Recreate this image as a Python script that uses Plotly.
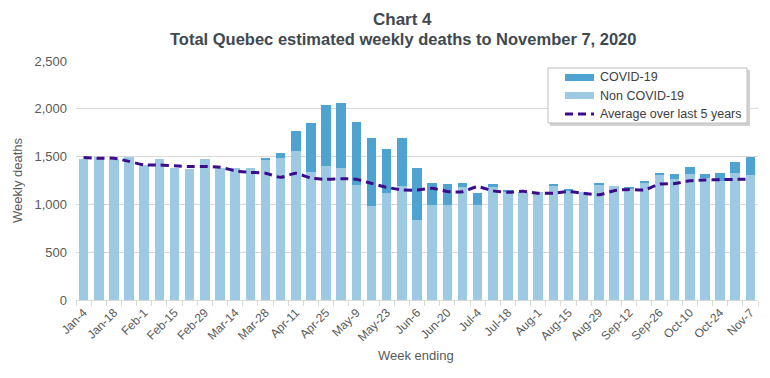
import plotly.graph_objects as go

weeks = ["Jan-4", "Jan-11", "Jan-18", "Jan-25", "Feb-1", "Feb-8", "Feb-15", "Feb-22", "Feb-29",
         "Mar-7", "Mar-14", "Mar-21", "Mar-28", "Apr-4", "Apr-11", "Apr-18", "Apr-25", "May-2",
         "May-9", "May-16", "May-23", "May-30", "Jun-6", "Jun-13", "Jun-20", "Jun-27", "Jul-4",
         "Jul-11", "Jul-18", "Jul-25", "Aug-1", "Aug-8", "Aug-15", "Aug-22", "Aug-29", "Sep-5",
         "Sep-12", "Sep-19", "Sep-26", "Oct-3", "Oct-10", "Oct-17", "Oct-24", "Oct-31", "Nov-7"]

non_covid = [1475, 1495, 1472, 1500, 1413, 1476, 1385, 1368, 1476, 1385, 1385, 1378, 1465, 1490,
             1560, 1342, 1404, 1376, 1208, 987, 1116, 1192, 837, 994, 994, 1185, 994, 1192, 1125,
             1133, 1133, 1200, 1144, 1134, 1210, 1192, 1168, 1220, 1308, 1266, 1315, 1280, 1245,
             1325, 1308]

covid = [0, 0, 0, 0, 0, 0, 0, 0, 0, 0, 0, 0, 25, 45, 213, 506, 636, 681, 657, 703, 464, 498, 540,
         226, 216, 35, 122, 18, 25, 0, 0, 3, 14, 0, 15, 0, 14, 23, 14, 47, 80, 42, 87, 122, 191]

avg5 = [1490, 1483, 1483, 1450, 1413, 1413, 1403, 1396, 1396, 1389, 1352, 1335, 1326, 1283, 1325,
        1275, 1262, 1269, 1262, 1220, 1179, 1152, 1150, 1168, 1135, 1133, 1185, 1142, 1126, 1138,
        1116, 1118, 1134, 1116, 1100, 1143, 1157, 1152, 1213, 1218, 1248, 1255, 1258, 1262, 1262]

series_names = ["COVID-19", "Non COVID-19", "Average over last 5 years"]
tick_text = [w if i % 2 == 0 else "" for i, w in enumerate(weeks)]

GRAY = "#595959"
TITLE_C = "#404850"
FONT = "Liberation Sans, Arial, sans-serif"
C_COVID = "#4FA3D1"
C_NON = "#9DC9E3"
C_AVG = "#3D0C8C"
DASH = "8px,5px"

# plot area in screenshot pixels (page has an 8px body margin)
OFF = 8
L, R, T, B = 76, 758, 61, 300
W, H = 770, 378


def px(xp):
    return (xp - L) / (R - L)


def py(yp):
    return (B - yp) / (B - T)


fig = go.Figure()
fig.add_trace(go.Bar(x=weeks, y=non_covid, name=series_names[1], marker_color=C_NON,
                     marker_line_width=0))
fig.add_trace(go.Bar(x=weeks, y=covid, name=series_names[0], marker_color=C_COVID,
                     marker_line_width=0))
fig.add_trace(go.Scatter(x=weeks, y=avg5, name=series_names[2], mode="lines",
                         line=dict(color=C_AVG, width=3, dash=DASH, shape="spline",
                                   smoothing=0.6)))

shapes = []
annotations = []

# titles
annotations.append(dict(text="<b>Chart 4</b>", xref="paper", yref="paper",
                        x=px(402), y=py(19.5), xanchor="center", yanchor="middle", showarrow=False,
                        font=dict(family=FONT, size=17, color=TITLE_C)))
annotations.append(dict(text="<b>Total Quebec estimated weekly deaths to November 7, 2020</b>",
                        xref="paper", yref="paper",
                        x=px(402.5), y=py(39), xanchor="center", yanchor="middle", showarrow=False,
                        font=dict(family=FONT, size=16.5, color=TITLE_C)))

# custom legend
shapes.append(dict(type="rect", xref="paper", yref="paper",
                   x0=px(550), x1=px(750), y0=py(70), y1=py(126),
                   fillcolor="#D2D2D2", line=dict(width=0), layer="above"))
shapes.append(dict(type="rect", xref="paper", yref="paper",
                   x0=px(548), x1=px(747), y0=py(68), y1=py(123),
                   fillcolor="white", line=dict(color="#BFBFBF", width=1), layer="above"))
shapes.append(dict(type="rect", xref="paper", yref="paper",
                   x0=px(565), x1=px(594), y0=py(74), y1=py(81),
                   fillcolor=C_COVID, line=dict(width=0), layer="above"))
shapes.append(dict(type="rect", xref="paper", yref="paper",
                   x0=px(565), x1=px(594), y0=py(92), y1=py(99),
                   fillcolor=C_NON, line=dict(width=0), layer="above"))
shapes.append(dict(type="line", xref="paper", yref="paper",
                   x0=px(565), x1=px(594), y0=py(114), y1=py(114),
                   line=dict(color=C_AVG, width=3, dash=DASH), layer="above"))
for name, yy in zip(series_names, [77, 95.5, 114]):
    annotations.append(dict(text=name, xref="paper", yref="paper", x=px(598), y=py(yy),
                            xanchor="left", yanchor="middle", showarrow=False,
                            font=dict(family=FONT, size=12.5, color="#404040")))

# axis titles
annotations.append(dict(text="Weekly deaths", xref="paper", yref="paper", x=px(17), y=py(180),
                        xanchor="center", yanchor="middle", textangle=-90, showarrow=False,
                        font=dict(family=FONT, size=13, color=GRAY)))
annotations.append(dict(text="Week ending", xref="paper", yref="paper", x=px(416), y=py(355),
                        xanchor="center", yanchor="middle", showarrow=False,
                        font=dict(family=FONT, size=13, color=GRAY)))

fig.update_layout(
    width=W, height=H,
    barmode="stack", bargap=0.37,
    plot_bgcolor="white", paper_bgcolor="white",
    margin=dict(l=L - OFF, r=W - (R - OFF), t=T - OFF, b=H - (B - OFF), autoexpand=False),
    font=dict(family=FONT, color=GRAY, size=12),
    showlegend=False,
    shapes=shapes,
    annotations=annotations,
)

fig.update_xaxes(
    type="category", tickmode="array", tickvals=weeks, ticktext=tick_text,
    tickangle=-45, tickfont=dict(size=12, color=GRAY),
    ticks="outside", tickson="boundaries", ticklen=5, tickcolor="#D9D9D9",
    showline=True, linecolor="#D9D9D9", linewidth=1,
    showgrid=False, automargin=False,
)
fig.update_yaxes(
    range=[0, 2500], dtick=500, tickformat=",",
    tickfont=dict(size=13, color=GRAY),
    showgrid=True, gridcolor="#D9D9D9", gridwidth=1,
    zeroline=False, showline=False,
    ticks="", ticklabelstandoff=8, automargin=False,
)

fig.write_html("out.html")
